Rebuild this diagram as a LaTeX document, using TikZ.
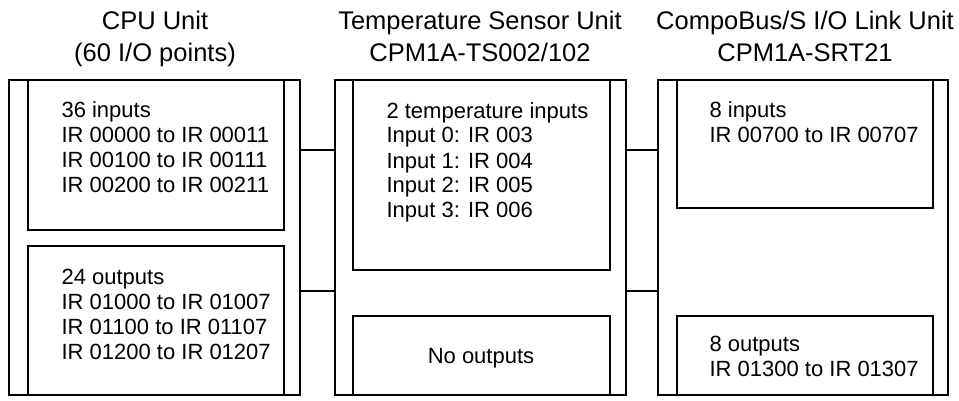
\documentclass[tikz,border=0pt]{standalone}
\usepackage{fontspec}
\setmainfont{Liberation Sans}
\begin{document}
\begin{tikzpicture}[x=1pt,y=-1pt,line width=1.1pt,
  txt/.style={anchor=base west,inner sep=0pt,font=\fontsize{22}{25}\selectfont,align=left},
  lbl/.style={anchor=base,inner sep=0pt,font=\fontsize{22}{25}\selectfont},
  ttl/.style={anchor=base,inner sep=0pt,font=\fontsize{25.5}{30}\selectfont},
  box/.style={draw,line width=1.1pt}]
\useasboundingbox (0,0) rectangle (959,401);
\clip (0,0) rectangle (959,401);
% titles
\node[ttl] (t1a) at (155,30) {CPU Unit};
\node[ttl] (t1b) at (155,62) {(60 I/O points)};
\node[ttl] (t2a) at (480,30) {Temperature Sensor Unit};
\node[ttl] (t2b) at (480,62) {CPM1A-TS002/102};
\node[ttl] (t3a) at (805,30) {CompoBus/S I/O Link Unit};
\node[ttl] (t3b) at (805,62) {CPM1A-SRT21};
% outer units
\draw[box] (9,80) rectangle (300,395);
\draw[box] (335,80) rectangle (626,395);
\draw[box] (658,80) rectangle (948,395);
% inner boxes
\draw[box] (28,80) rectangle (284,230);
\draw[box] (28,246) rectangle (284,395);
\draw[box] (353,80) rectangle (610,270);
\draw[box] (353,316) rectangle (610,395);
\draw[box] (677,80) rectangle (933,208);
\draw[box] (677,316) rectangle (933,395);
% connectors
\coordinate (c1a) at (300,150); \coordinate (c1b) at (335,150);
\coordinate (c2a) at (300,291); \coordinate (c2b) at (335,291);
\coordinate (c3a) at (626,150); \coordinate (c3b) at (658,150);
\coordinate (c4a) at (626,291); \coordinate (c4b) at (658,291);
\draw (c1a) -- (c1b); \draw (c2a) -- (c2b);
\draw (c3a) -- (c3b); \draw (c4a) -- (c4b);
% texts (base = last line baseline)
\node[txt] (a1) at (61,193) {36 inputs\\IR 00000 to IR 00011\\IR 00100 to IR 00111\\IR 00200 to IR 00211};
\node[txt] (a2) at (61,359) {24 outputs\\IR 01000 to IR 01007\\IR 01100 to IR 01107\\IR 01200 to IR 01207};
\node[txt] (b1) at (386,218) {2 temperature inputs\\Input 0: IR 003\\Input 1: IR 004\\Input 2: IR 005\\Input 3: IR 006};
\node[lbl] (b2) at (481,363) {No outputs};
\node[txt] (d1) at (709,143) {8 inputs\\IR 00700 to IR 00707};
\node[txt] (d2) at (709,376) {8 outputs\\IR 01300 to IR 01307};
\end{tikzpicture}
\end{document}
